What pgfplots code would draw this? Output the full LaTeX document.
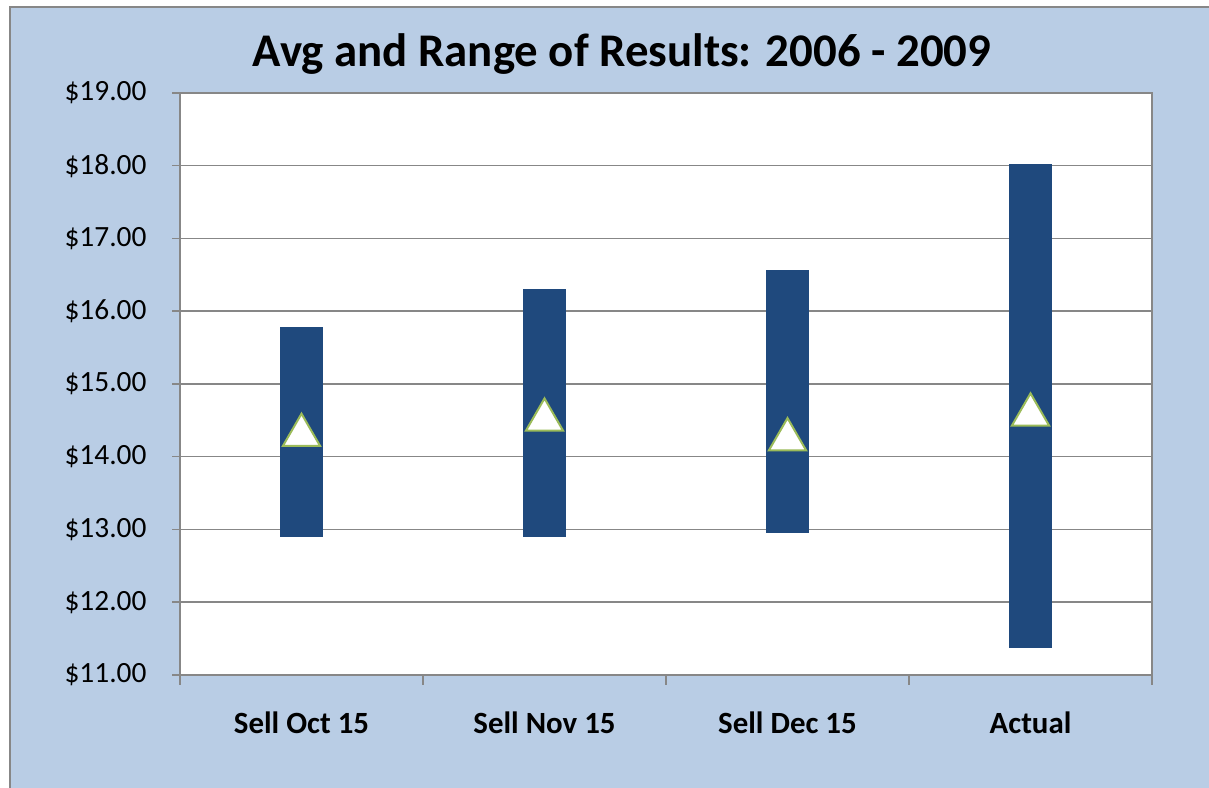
\documentclass[border=0pt]{standalone}
\usepackage{fontspec}
\setmainfont{Carlito}
\usepackage{pgfplots}
\pgfplotsset{compat=1.18}
\usepackage{pgfplotstable}
\definecolor{bgblue}{HTML}{B9CDE5}
\definecolor{barblue}{HTML}{1F497D}
\definecolor{trigreen}{HTML}{9BBB59}
\definecolor{gridgray}{HTML}{878787}

\pgfplotstableread{
x low high avg
0 12.90 15.79 14.37
1 12.90 16.31 14.58
2 12.95 16.57 14.31
3 11.37 18.02 14.65
}\datatable

\begin{document}
\begin{tikzpicture}[x=1bp,y=1bp]
\fill[white] (0,0) rectangle (1209,788);
\fill[bgblue] (10,0) rectangle (1209,781);
\draw[gridgray, line width=1.5bp] (10,0) -- (10,781) -- (1209,781);
\node[anchor=base, font=\bfseries\fontsize{47}{56}\selectfont] at (622,721) {Avg and Range of Results: 2006 - 2009};
\begin{axis}[
  at={(180bp,113bp)}, anchor=south west,
  scale only axis, width=972bp, height=582bp,
  xmin=-0.5, xmax=3.5, ymin=11, ymax=19,
  axis background/.style={fill=white},
  axis line style={gridgray, line width=1.5bp},
  ymajorgrids, grid style={gridgray, line width=1.5bp},
  ytick={11,12,...,19},
  yticklabels={\$11.00,\$12.00,\$13.00,\$14.00,\$15.00,\$16.00,\$17.00,\$18.00,\$19.00},
  xtick={0,1,2,3},
  xticklabels={Sell Oct 15, Sell Nov 15, Sell Dec 15, Actual},
  minor xtick={-0.5,0.5,1.5,2.5,3.5},
  tick align=outside,
  major tick length=8bp, minor tick length=10bp,
  major x tick style={draw=none},
  tick style={gridgray, line width=1.5bp},
  minor tick style={gridgray, line width=1.5bp},
  ytick pos=left, xtick pos=bottom,
  yticklabel style={font=\fontsize{29.5}{34}\selectfont, xshift=-22bp},
  xticklabel style={font=\bfseries\fontsize{31}{36}\selectfont, anchor=base, yshift=-51bp},
]
\addplot[draw=none, mark=none, forget plot,
  error bars/.cd, y dir=both, y explicit, error mark=none,
  error bar style={line width=43bp, draw=barblue, solid}]
  table[x=x, y=avg,
        y error plus expr=\thisrow{high}-\thisrow{avg},
        y error minus expr=\thisrow{avg}-\thisrow{low}] {\datatable};
\addplot[only marks, mark=triangle*, mark size=21.5bp,
  mark options={fill=white, draw=trigreen, line width=2bp, yshift=-5.4bp}]
  table[x=x, y=avg] {\datatable};
\end{axis}
\pgfresetboundingbox
\path[use as bounding box] (0,0) rectangle (1209,788);
\end{tikzpicture}
\end{document}
